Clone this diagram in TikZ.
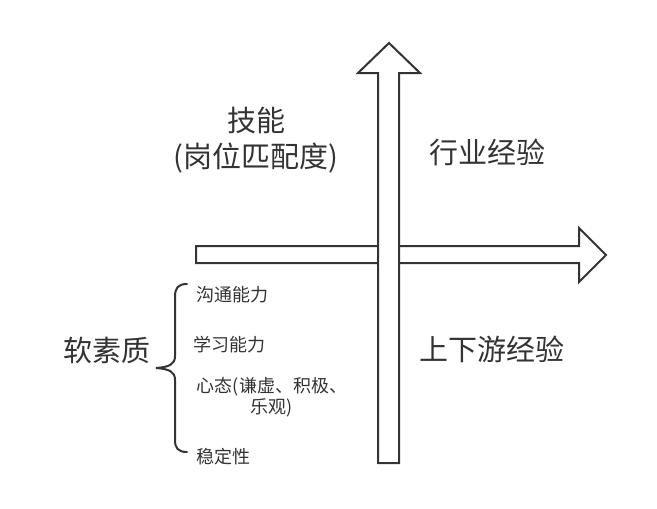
\documentclass[tikz,border=0pt]{standalone}
\usepackage{fontspec}
\setmainfont{Noto Sans CJK SC}
\usetikzlibrary{positioning,calc}
\definecolor{ink}{HTML}{333333}

\begin{document}
\begin{tikzpicture}[x=1pt,y=-1pt,
  bigtext/.style={text=ink,inner sep=0pt,align=center,font=\fontsize{29}{36}\selectfont},
  smalltext/.style={text=ink,inner sep=0pt,anchor=west,font=\fontsize{18}{21}\selectfont},
  arrowbox/.style={draw=ink,line width=2pt,fill=white,line join=miter}]
\useasboundingbox (0,0) rectangle (657,509);
% the two axes, the upright one lies on top
\draw[arrowbox] (196,246) -- (579,246) -- (579,228) -- (606,255) -- (579,282)
  -- (579,263) -- (196,263) -- cycle;
\draw[arrowbox] (378,463) -- (378,73) -- (358,73) -- (389,43) -- (420,73)
  -- (399,73) -- (399,463) -- cycle;
% quadrant labels
\node[bigtext] (skill) at (256,140) {技能\\(岗位匹配度)};
\node[bigtext] (industry) at (487,152) {行业经验};
\node[bigtext] (chain) at (492,349) {上下游经验};
\node[bigtext] (soft) at (107,350) {软素质};
% brace and its items
\draw[ink,line width=2pt,line cap=round]
  (187,284) .. controls (178,284) and (175,288) .. (175,297) -- (175,356)
  .. controls (175,364) and (170,367) .. (156,368)
  .. controls (170,369) and (175,372) .. (175,380) -- (175,440)
  .. controls (175,448) and (178,452) .. (187,452);
\node[smalltext] (talk) at (196,295) {沟通能力};
\node[smalltext] (learn) at (193,345) {学习能力};
\node[smalltext,anchor=center,align=center] (mind) at (272,397) {心态(谦虚、积极、\\乐观)};
\node[smalltext] (steady) at (196,457) {稳定性};
\end{tikzpicture}
\end{document}
